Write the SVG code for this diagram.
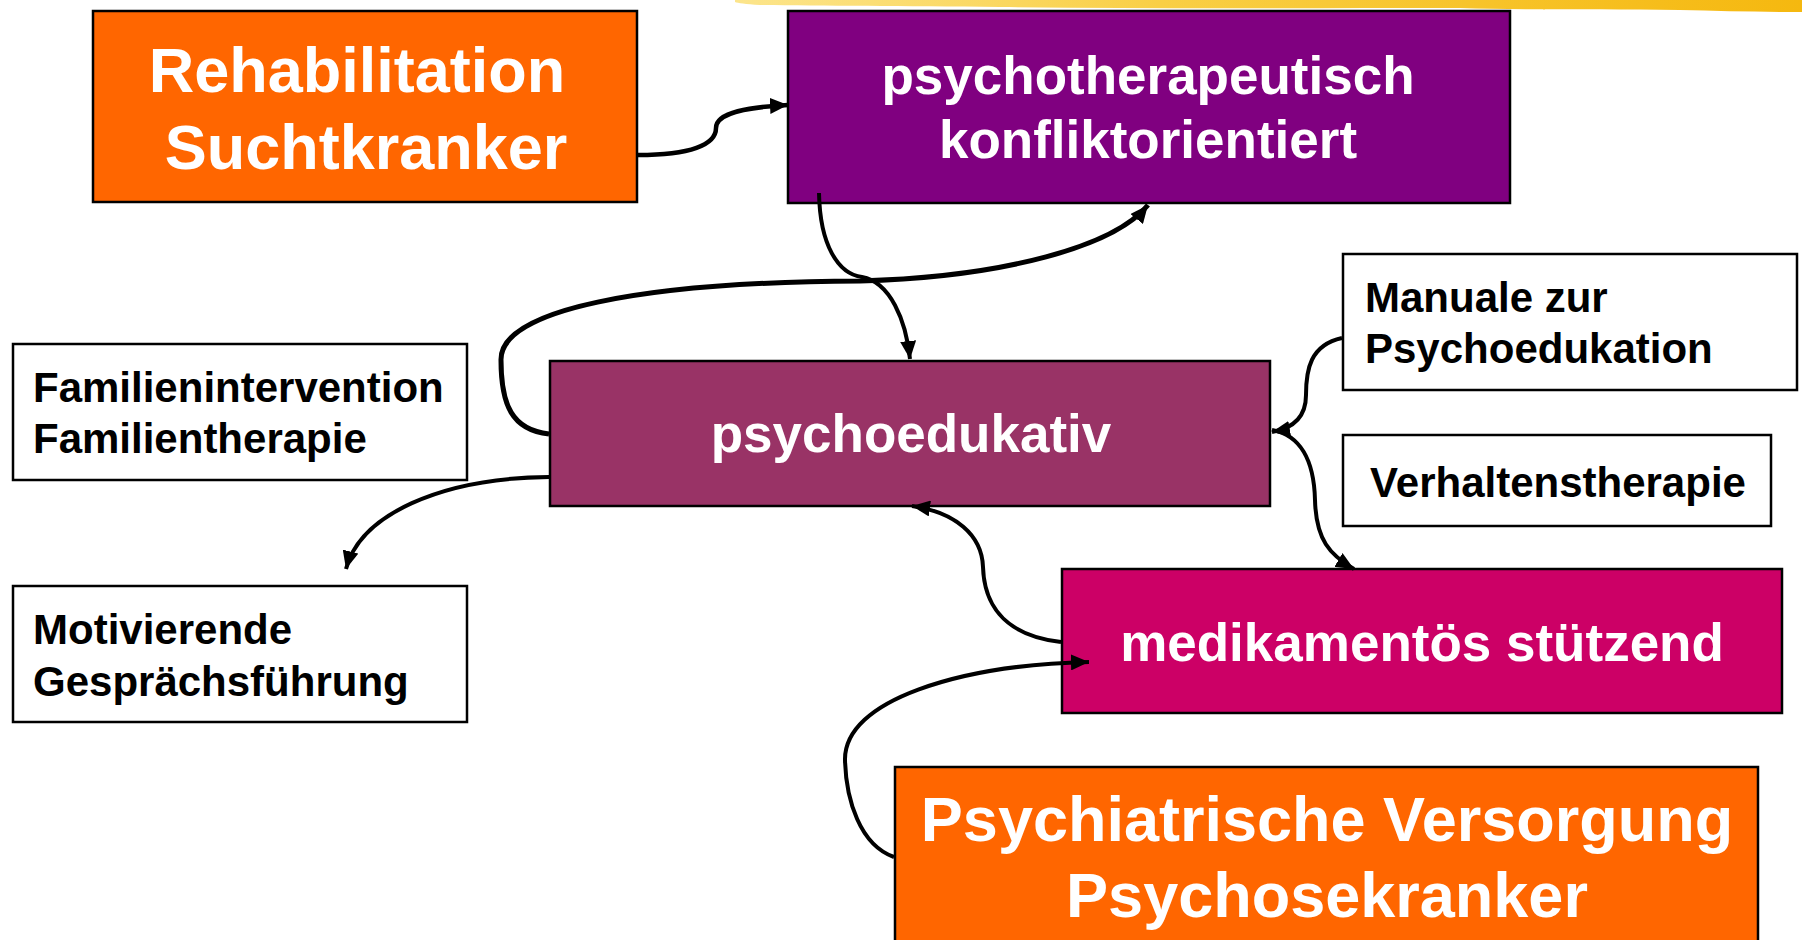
<svg xmlns="http://www.w3.org/2000/svg" width="1802" height="940" viewBox="0 0 1802 940">
<style>
.box{stroke:#000;stroke-width:2.5}
.t{font-family:"Liberation Sans",Arial,Helvetica,sans-serif;font-weight:bold}
.big{font-size:63px;fill:#fff;text-anchor:middle}
.mid{font-size:53px;fill:#fff;text-anchor:middle}
.sm{font-size:42px;fill:#000}
.c{fill:none;stroke:#000;stroke-width:4}
</style>
<defs>
<marker id="arr" markerUnits="userSpaceOnUse" markerWidth="20" markerHeight="16" refX="18" refY="8" orient="auto">
<path d="M0,0 L18,8 L0,16 Z" fill="#000"/>
</marker>
<linearGradient id="gold" x1="0" y1="0" x2="1" y2="0">
<stop offset="0" stop-color="#FCE58C"/>
<stop offset="0.4" stop-color="#F9CF45"/>
<stop offset="1" stop-color="#F5B80F"/>
</linearGradient>
</defs>
<rect width="1802" height="940" fill="#fff"/>
<path d="M735,0 L1802,0 L1802,12 C1760,12 1720,11 1680,10 C1600,9 1520,10 1460,8 C1300,8 1150,9 1000,7 C900,6 820,6 760,5 C745,4 738,3 735,2 Z" fill="url(#gold)"/>

<g id="node-rehab">
<rect class="box" x="93" y="11" width="544" height="191" fill="#FF6600"/>
<text class="t big" x="357" y="92">Rehabilitation</text>
<text class="t big" x="366" y="169">Suchtkranker</text>
</g>
<g id="node-psychotherapeutisch">
<rect class="box" x="788" y="11" width="722" height="192" fill="#800080"/>
<text class="t mid" x="1148" y="94">psychotherapeutisch</text>
<text class="t mid" x="1148" y="158">konfliktorientiert</text>
</g>
<g id="node-psychoedukativ">
<rect class="box" x="550" y="361" width="720" height="145" fill="#993366"/>
<text class="t mid" x="911" y="452">psychoedukativ</text>
</g>
<g id="node-medikamentoes">
<rect class="box" x="1062" y="569" width="720" height="144" fill="#CC0066"/>
<text class="t mid" x="1422" y="661">medikamentös stützend</text>
</g>
<g id="node-psychiatrische">
<rect class="box" x="895" y="767" width="863" height="200" fill="#FF6600"/>
<text class="t big" x="1327" y="841">Psychiatrische Versorgung</text>
<text class="t big" x="1327" y="917">Psychosekranker</text>
</g>
<g id="node-manuale">
<rect class="box" x="1343" y="254" width="454" height="136" fill="#fff"/>
<text class="t sm" x="1365" y="312">Manuale zur</text>
<text class="t sm" x="1365" y="363">Psychoedukation</text>
</g>
<g id="node-verhaltenstherapie">
<rect class="box" x="1343" y="435" width="428" height="91" fill="#fff"/>
<text class="t sm" x="1558" y="497" text-anchor="middle">Verhaltenstherapie</text>
</g>
<g id="node-familie">
<rect class="box" x="13" y="344" width="454" height="136" fill="#fff"/>
<text class="t sm" x="33" y="402">Familienintervention</text>
<text class="t sm" x="33" y="453">Familientherapie</text>
</g>
<g id="node-motivierende">
<rect class="box" x="13" y="586" width="454" height="136" fill="#fff"/>
<text class="t sm" x="33" y="644">Motivierende</text>
<text class="t sm" x="33" y="696">Gesprächsführung</text>
</g>

<g id="connectors">
<path class="c" d="M638,155 C690,155 716,145 716,128 C716,112 750,107 788,105" style="stroke-width:4.5" marker-end="url(#arr)"/>
<path class="c" d="M549,434 C512,430 501,405 501,360 C500,310 640,282 860,281 C1005,277 1115,246 1148,205" style="stroke-width:5" marker-end="url(#arr)"/>
<path class="c" d="M819,193 C820,245 838,274 862,277 C890,282 906,320 910,359" marker-end="url(#arr)"/>
<path class="c" d="M549,477 C440,478 360,515 346,569" marker-end="url(#arr)"/>
<path class="c" d="M1342,338 C1310,345 1306,370 1306,395 C1306,415 1295,428 1272,432" marker-end="url(#arr)"/>
<path class="c" d="M1272,430 C1300,435 1314,460 1315,500 C1316,540 1330,555 1354,569" marker-end="url(#arr)"/>
<path class="c" d="M1061,642 C1000,635 984,600 983,567 C982,535 955,512 912,506" marker-end="url(#arr)"/>
<path class="c" d="M894,857 C860,845 846,800 845,760 C844,700 960,665 1089,662" marker-end="url(#arr)"/>
</g>
</svg>
